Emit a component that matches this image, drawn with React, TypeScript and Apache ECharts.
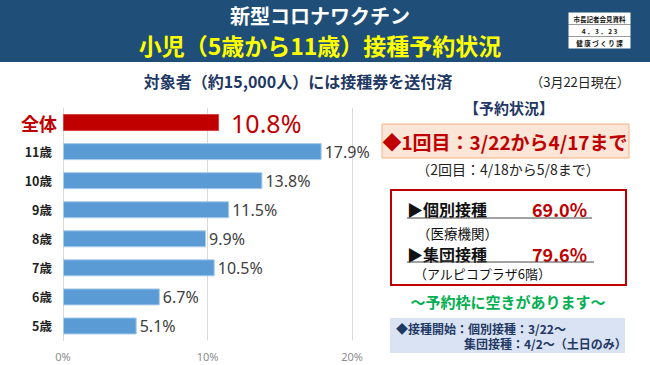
import React, { useEffect, useRef } from "react";
import * as echarts from "echarts";

const categories = ["全体", "11歳", "10歳", "9歳", "8歳", "7歳", "6歳", "5歳"];
const values = [10.8, 17.9, 13.8, 11.5, 9.9, 10.5, 6.7, 5.1];
const xTicks = [0, 10, 20];

const JP = '"Noto Sans CJK JP", "Noto Sans", sans-serif';
const NAVY = "#1F3864";
const RED = "#C00000";

export default function App() {
  const ref = useRef<HTMLDivElement>(null);
  useEffect(() => {
    document.body.style.margin = "0";
    const chart = echarts.init(ref.current!, null, { renderer: "svg" });
    const data = values.map((v, i) =>
      i === 0
        ? {
            value: v,
            itemStyle: { color: RED, borderColor: "#D94040", borderWidth: 1 },
            label: {
              distance: 12,
              fontSize: 25,
              color: RED,
              fontFamily: '"Noto Sans", sans-serif',
            },
          }
        : { value: v }
    );
    chart.setOption({
      animation: false,
      backgroundColor: "#ffffff",
      grid: { left: 63, right: 298, top: 108, bottom: 24.5, containLabel: false },
      xAxis: {
        type: "value",
        min: xTicks[0],
        max: xTicks[xTicks.length - 1],
        interval: 10,
        axisLine: { show: false },
        axisTick: { show: false },
        splitLine: { lineStyle: { color: "#D9D9D9", width: 1 } },
        axisLabel: {
          formatter: "{value}%",
          color: "#8C8C8C",
          fontSize: 11,
          fontFamily: '"Noto Sans", sans-serif',
          margin: 10,
        },
      },
      yAxis: {
        type: "category",
        inverse: true,
        data: categories,
        axisLine: { show: true, lineStyle: { color: "#D9D9D9" } },
        axisTick: { show: false },
        axisLabel: {
          margin: 6,
          formatter: (v: string) => (v === "全体" ? `{t|${v}}` : `{a|${v}}`),
          rich: {
            t: { color: RED, fontSize: 18, fontWeight: "bold", fontFamily: JP },
            a: {
              color: "#222222",
              fontSize: 12.5,
              fontWeight: "bold",
              fontFamily: JP,
              padding: [0, 5, 0, 0],
            },
          },
        },
      },
      series: [
        {
          type: "bar",
          data,
          barWidth: 17,
          itemStyle: { color: "#5B9BD5", borderColor: "#A9CBEA", borderWidth: 1 },
          label: {
            show: true,
            position: "right",
            distance: 3,
            formatter: (p: any) => `${p.value.toFixed(1)}%`,
            color: "#404040",
            fontSize: 16,
            fontFamily: '"Noto Sans", sans-serif',
          },
        },
      ],
      graphic: [
        { type: "rect", shape: { x: 0, y: 0, width: 650, height: 62 }, style: { fill: "#1F4E79" } },
        {
          type: "text",
          x: 320,
          y: 15,
          style: {
            text: "新型コロナワクチン",
            fill: "#ffffff",
            font: `bold 20px ${JP}`,
            lineHeight: 20,
            align: "center",
            verticalAlign: "middle",
          },
        },
        {
          type: "text",
          x: 320,
          y: 45,
          style: {
            text: "小児（5歳から11歳）接種予約状況",
            fill: "#FFFF00",
            font: `bold 23px ${JP}`,
            lineHeight: 23,
            align: "center",
            verticalAlign: "middle",
          },
        },
        {
          type: "rect",
          shape: { x: 568, y: 12, width: 63, height: 37 },
          style: { fill: "#ffffff", stroke: "#1F4E79", lineWidth: 1 },
        },
        { type: "line", shape: { x1: 568, y1: 24.5, x2: 631, y2: 24.5 }, style: { stroke: "#555", lineWidth: 0.6 } },
        { type: "line", shape: { x1: 568, y1: 36.5, x2: 631, y2: 36.5 }, style: { stroke: "#555", lineWidth: 0.6 } },
        {
          type: "text",
          x: 599.5,
          y: 18.5,
          style: { text: "市長記者会見資料", fill: "#111", font: `bold 6.5px ${JP}`, align: "center", verticalAlign: "middle" },
        },
        {
          type: "text",
          x: 599.5,
          y: 30.5,
          style: { text: "4 ． 3 ． 2 3", fill: "#111", font: `bold 6.5px ${JP}`, align: "center", verticalAlign: "middle" },
        },
        {
          type: "text",
          x: 599.5,
          y: 42.5,
          style: { text: "健 康 づ く り 課", fill: "#111", font: `bold 6.5px ${JP}`, align: "center", verticalAlign: "middle" },
        },
        {
          type: "text",
          x: 298,
          y: 81,
          style: {
            text: "対象者（約15,000人）には接種券を送付済",
            fill: NAVY,
            font: `bold 16px ${JP}`,
            align: "center",
            verticalAlign: "middle",
          },
        },
        {
          type: "text",
          x: 580,
          y: 81,
          style: { text: "（3月22日現在）", fill: "#222", font: `13px ${JP}`, align: "center", verticalAlign: "middle" },
        },
        {
          type: "text",
          x: 509,
          y: 107,
          style: { text: "【予約状況】", fill: NAVY, font: `bold 15px ${JP}`, align: "center", verticalAlign: "middle" },
        },
        {
          type: "rect",
          shape: { x: 382, y: 124, width: 247, height: 34 },
          style: { fill: "#FBE5D6", stroke: "#F4B183", lineWidth: 1 },
        },
        {
          type: "text",
          x: 505,
          y: 141,
          style: {
            text: "◆1回目：3/22から4/17まで",
            fill: RED,
            font: `bold 19px ${JP}`,
            align: "center",
            verticalAlign: "middle",
          },
        },
        {
          type: "text",
          x: 508,
          y: 169,
          style: { text: "（2回目：4/18から5/8まで）", fill: "#222", font: `14px ${JP}`, align: "center", verticalAlign: "middle" },
        },
        {
          type: "rect",
          shape: { x: 391, y: 190, width: 235, height: 95 },
          style: { fill: "#ffffff", stroke: RED, lineWidth: 2 },
        },
        {
          type: "text",
          x: 407,
          y: 209,
          style: { text: "▶個別接種", fill: "#111", font: `bold 16px ${JP}`, align: "left", verticalAlign: "middle" },
        },
        {
          type: "text",
          x: 532,
          y: 209,
          style: { text: "69.0%", fill: RED, font: `bold 18px ${JP}`, align: "left", verticalAlign: "middle" },
        },
        { type: "line", shape: { x1: 407, y1: 218, x2: 592, y2: 218 }, style: { stroke: "#444", lineWidth: 1 } },
        {
          type: "text",
          x: 417,
          y: 233,
          style: { text: "（医療機関）", fill: "#111", font: `13.5px ${JP}`, align: "left", verticalAlign: "middle" },
        },
        {
          type: "text",
          x: 407,
          y: 254,
          style: { text: "▶集団接種", fill: "#111", font: `bold 16px ${JP}`, align: "left", verticalAlign: "middle" },
        },
        {
          type: "text",
          x: 532,
          y: 254,
          style: { text: "79.6%", fill: RED, font: `bold 18px ${JP}`, align: "left", verticalAlign: "middle" },
        },
        { type: "line", shape: { x1: 407, y1: 262, x2: 594, y2: 262 }, style: { stroke: "#444", lineWidth: 1 } },
        {
          type: "text",
          x: 414,
          y: 273,
          style: { text: "（アルピコプラザ6階）", fill: "#111", font: `13px ${JP}`, align: "left", verticalAlign: "middle" },
        },
        {
          type: "text",
          x: 508,
          y: 301,
          style: {
            text: "～予約枠に空きがあります～",
            fill: "#00B050",
            font: `bold 15px ${JP}`,
            align: "center",
            verticalAlign: "middle",
          },
        },
        {
          type: "rect",
          shape: { x: 390, y: 318, width: 235, height: 35 },
          style: { fill: "#DAE3F3" },
        },
        {
          type: "text",
          x: 396,
          y: 328,
          style: {
            text: "◆接種開始：個別接種：3/22～",
            fill: NAVY,
            font: `bold 12px ${JP}`,
            align: "left",
            verticalAlign: "middle",
          },
        },
        {
          type: "text",
          x: 464,
          y: 343,
          style: {
            text: "集団接種：4/2～（土日のみ）",
            fill: NAVY,
            font: `bold 12px ${JP}`,
            align: "left",
            verticalAlign: "middle",
          },
        },
      ],
    });
    return () => chart.dispose();
  }, []);
  return <div ref={ref} style={{ width: 650, height: 365 }} />;
}
